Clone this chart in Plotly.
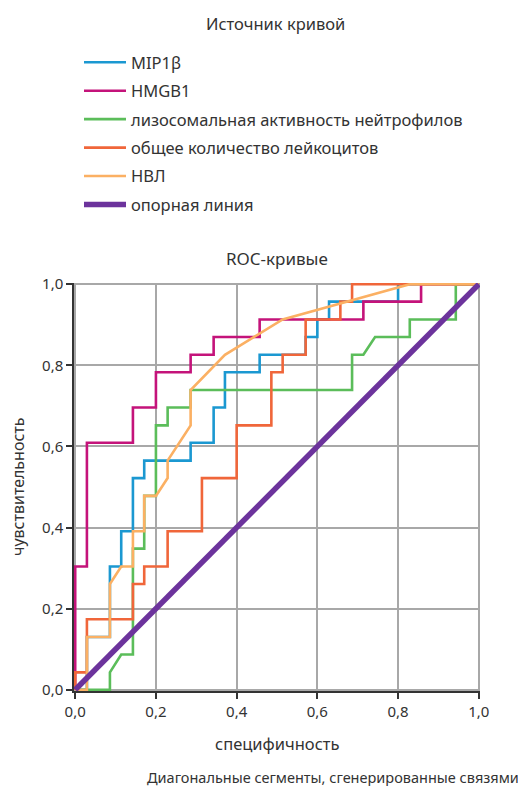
import plotly.graph_objects as go

# ROC curve points (1 - specificity, sensitivity)
mip_x = [0, 0.029, 0.029, 0.086, 0.086, 0.114, 0.114, 0.143, 0.143, 0.171, 0.171, 0.286, 0.286, 0.343, 0.343, 0.371, 0.371, 0.457, 0.457, 0.571, 0.571, 0.600, 0.600, 0.629, 0.629, 0.800, 0.800, 1.0]
mip_y = [0, 0, 0.130, 0.130, 0.304, 0.304, 0.391, 0.391, 0.522, 0.522, 0.565, 0.565, 0.609, 0.609, 0.696, 0.696, 0.783, 0.783, 0.826, 0.826, 0.870, 0.870, 0.913, 0.913, 0.957, 0.957, 1.0, 1.0]

hmgb_x = [0, 0, 0.029, 0.029, 0.143, 0.143, 0.200, 0.200, 0.286, 0.286, 0.343, 0.343, 0.457, 0.457, 0.714, 0.714, 0.857, 0.857, 1.0]
hmgb_y = [0, 0.304, 0.304, 0.609, 0.609, 0.696, 0.696, 0.783, 0.783, 0.826, 0.826, 0.870, 0.870, 0.913, 0.913, 0.957, 0.957, 1.0, 1.0]

lys_x = [0, 0.086, 0.086, 0.114, 0.143, 0.143, 0.171, 0.171, 0.200, 0.200, 0.229, 0.229, 0.286, 0.286, 0.686, 0.686, 0.714, 0.743, 0.829, 0.829, 0.943, 0.943, 1.0]
lys_y = [0, 0, 0.043, 0.087, 0.087, 0.348, 0.348, 0.478, 0.478, 0.652, 0.652, 0.696, 0.696, 0.739, 0.739, 0.826, 0.826, 0.870, 0.870, 0.913, 0.913, 1.0, 1.0]

wbc_x = [0, 0, 0.029, 0.029, 0.143, 0.143, 0.171, 0.171, 0.229, 0.229, 0.314, 0.314, 0.400, 0.400, 0.486, 0.486, 0.514, 0.514, 0.571, 0.571, 0.657, 0.657, 0.686, 0.686, 1.0]
wbc_y = [0, 0.043, 0.043, 0.174, 0.174, 0.261, 0.261, 0.304, 0.304, 0.391, 0.391, 0.522, 0.522, 0.652, 0.652, 0.783, 0.783, 0.826, 0.826, 0.913, 0.913, 0.957, 0.957, 1.0, 1.0]

nvl_x = [0, 0.029, 0.029, 0.086, 0.086, 0.114, 0.143, 0.143, 0.171, 0.171, 0.200, 0.229, 0.229, 0.286, 0.286, 0.371, 0.514, 0.829, 1.0]
nvl_y = [0, 0, 0.130, 0.130, 0.261, 0.304, 0.304, 0.391, 0.391, 0.478, 0.478, 0.522, 0.565, 0.652, 0.739, 0.826, 0.913, 1.0, 1.0]

ref_x = [0, 1]
ref_y = [0, 1]

names = ["MIP1β", "HMGB1", "лизосомальная активность нейтрофилов",
         "общее количество лейкоцитов", "НВЛ", "опорная линия"]
colors = ["#1b98d1", "#c4137a", "#5bbd5a", "#f0663a", "#fbb063", "#6c339c"]
widths = [2.6, 2.6, 2.6, 2.6, 2.6, 5.5]
xs = [mip_x, hmgb_x, lys_x, wbc_x, nvl_x, ref_x]
ys = [mip_y, hmgb_y, lys_y, wbc_y, nvl_y, ref_y]

FONT = "Noto Sans"
TXT = "#333333"

fig = go.Figure()
for n, x, y, c, w in zip(names, xs, ys, colors, widths):
    fig.add_trace(go.Scatter(x=x, y=y, mode="lines", name=n, legendgroup=n,
                             line=dict(color=c, width=w)))

# the page adds an 8px body margin; figure coordinates = screen - 8
W, H = 518, 778
L, T = 66, 275
PW, PH = 406, 408
R, B = W - L - PW, H - T - PH


def px(fx):
    return (fx - L) / PW


def py(fy):
    return 1 - (fy - T) / PH


fig.update_layout(
    width=W, height=H,
    margin=dict(l=L, r=R, t=T, b=B, pad=0, autoexpand=False),
    paper_bgcolor="white", plot_bgcolor="white",
    separators=",.",
    font=dict(family=FONT, size=15, color=TXT),
    showlegend=True,
    legend=dict(xref="container", yref="container", x=71 / W, y=1 - 37 / H,
                xanchor="left", yanchor="top", traceorder="grouped",
                tracegroupgap=4, font=dict(family=FONT, size=16.5, color=TXT),
                bgcolor="rgba(0,0,0,0)", itemwidth=42),
    xaxis=dict(range=[-0.003, 1.003], tickvals=[0, 0.2, 0.4, 0.6, 0.8, 1.0],
               tickformat=".1f", showgrid=True, gridcolor="#a8a8a8", gridwidth=1.5,
               zeroline=False, showline=True, linecolor="#333333", linewidth=1.5,
               ticks="outside", ticklen=6, tickcolor="#333333", tickwidth=1.5,
               tickfont=dict(size=15, color=TXT), automargin=False),
    yaxis=dict(range=[-0.003, 1.003], tickvals=[0, 0.2, 0.4, 0.6, 0.8, 1.0],
               tickformat=".1f", showgrid=True, gridcolor="#a8a8a8", gridwidth=1.5,
               zeroline=False, showline=True, linecolor="#333333", linewidth=1.5,
               ticks="outside", ticklen=6, tickcolor="#333333", tickwidth=1.5,
               tickfont=dict(size=15, color=TXT), automargin=False),
    annotations=[
        dict(text="Источник кривой", xref="paper", yref="paper",
             x=px(267), y=py(15), xanchor="center", yanchor="middle",
             showarrow=False, font=dict(size=16.5, color=TXT)),
        dict(text="ROC-кривые", xref="paper", yref="paper",
             x=px(269), y=py(250), xanchor="center", yanchor="middle",
             showarrow=False, font=dict(size=17, color=TXT)),
        dict(text="специфичность", xref="paper", yref="paper",
             x=px(269), y=py(735), xanchor="center", yanchor="middle",
             showarrow=False, font=dict(size=16.5, color=TXT)),
        dict(text="чувствительность", xref="paper", yref="paper",
             x=px(10), y=py(479), xanchor="center", yanchor="middle", textangle=-90,
             showarrow=False, borderpad=0, font=dict(size=16, color=TXT)),
        dict(text="Диагональные сегменты, сгенерированные связями", xref="paper", yref="paper",
             x=px(513), y=py(769), xanchor="right", yanchor="middle",
             showarrow=False, font=dict(size=14.5, color=TXT)),
    ],
)

fig.write_html("out.html")
